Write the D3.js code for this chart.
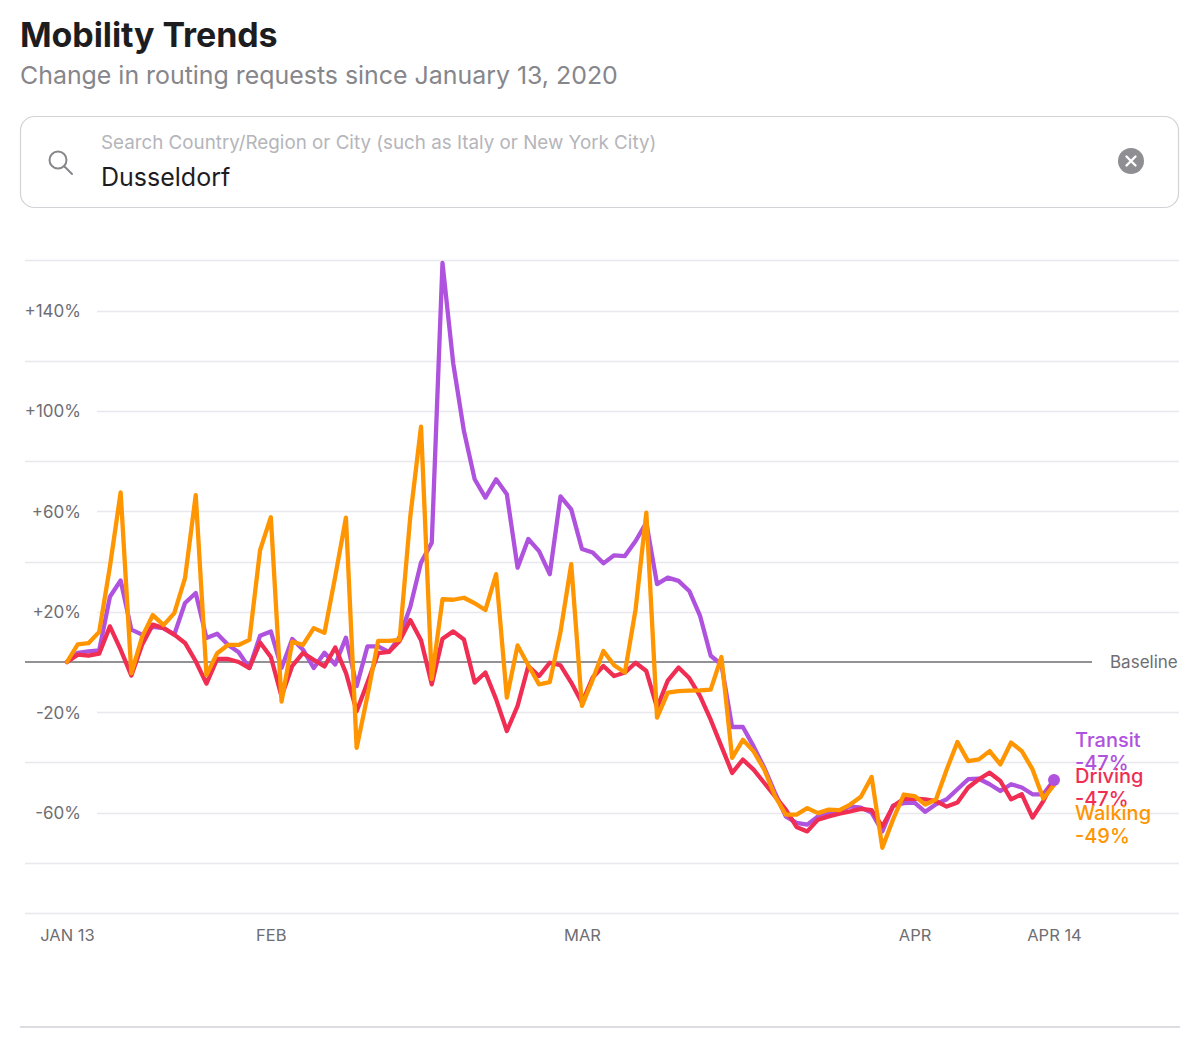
<!DOCTYPE html>
<html>
<head>
<meta charset="utf-8">
<script src="https://cdn.jsdelivr.net/npm/d3@7"></script>
<style>
  html, body { margin: 0; padding: 0; background: #fff; }
  svg { display: block; }
</style>
</head>
<body>
<svg id="chart" width="1200" height="1048"></svg>
<script>
// ---- Data (percent change vs baseline, daily from Jan 13, 2020 to Apr 14, 2020) ----
const startDate = "2020-01-13";
const endDate = "2020-04-14";

const transit = [
  0, 3.6, 4.2, 4.6, 26, 32.5, 12.9, 10.9, 14, 13.5,
  10.9, 23.5, 27.5, 9.6, 11.3, 6.9, 3.9, -2.4, 10.5, 12.2,
  -2.4, 9.2, 4.9, -2.4, 3.7, -1, 9.7, -9.6, 6.2, 6.2,
  4, 10, 22, 39.6, 47.5, 159, 119, 92, 72.8, 65.5,
  72.8, 66.8, 37.6, 49, 44.2, 35, 66, 60.8, 45, 43.6,
  39.3, 42.5, 42.2, 48.2, 55.5, 31, 33.6, 32.3, 28.3, 18.5,
  2.5, -1, -25.9, -25.9, -33.6, -42.2, -52.2, -61.5, -64.1, -64.8,
  -61.5, -60.2, -59.5, -57.5, -58, -60, -67.5, -57.2, -56.2, -56,
  -59.7, -56.7, -54.7, -50.7, -46.7, -46.5, -48.7, -51.4, -48.7, -50,
  -52.7, -52.7, -47
];

const driving = [
  0, 2.9, 2.5, 3.3, 14.2, 4.9, -5.4, 6.9, 14.9, 13.5,
  10.9, 7.6, 0.3, -8.6, 1.2, 1.2, 0, -2.4, 7.8, 2,
  -13.7, -1.5, 3.6, 0.9, -1.8, 5.8, -4.3, -19.6, -8.3, 3.5,
  4, 8.4, 16.7, 8.7, -8.9, 9.3, 12.2, 9, -8.2, -4.2,
  -14.9, -27.5, -17.5, -1.6, -5.6, -0.3, -1.3, -8.2, -16.2, -6.2,
  -1.6, -5.6, -4.2, -0.3, -3.6, -18.2, -7.4, -2.2, -6.4, -13.5,
  -23, -33.6, -44.2, -38.9, -42.9, -48.2, -53.5, -58.8, -65.7, -67.5,
  -62.8, -61.5, -60.4, -59.5, -58.5, -59, -65.5, -57.5, -54.5, -54.4,
  -54.7, -55.4, -57.6, -56, -50, -46.7, -44.1, -47.4, -54.7, -52.7,
  -62, -55.4, -47
];

const walking = [
  0, 7, 7.5, 12, 38, 67.6, -4.5, 10, 18.7, 14.7,
  19.5, 33.4, 66.5, -5.2, 3.5, 6.8, 6.8, 8.8, 44.6, 57.7,
  -15.8, 8.1, 6.8, 13.5, 11.6, 34, 57.5, -34.2, -13.6, 8.4,
  8.4, 8.8, 58, 93.8, -6.8, 25, 24.8, 25.6, 23.4, 20.7,
  35, -14.2, 6.6, -1.3, -8.9, -8, 12, 39, -17.5, -7,
  4.4, -1.3, -4.2, 21, 59.5, -22.2, -12.2, -11.6, -11.4, -11.3,
  -11, 2, -38.2, -31, -35.6, -42.9, -53.5, -60.8, -60.8, -58.2,
  -60.2, -58.8, -59, -56.8, -53.7, -45.8, -74, -62.7, -52.8, -53.4,
  -56.8, -54.8, -42.8, -31.9, -39.5, -38.8, -35.5, -40.8, -32.1, -35.5,
  -42.8, -54.4, -49
];

const seriesNames = ["Transit", "Driving", "Walking"];
const seriesLabels = ["-47%", "-47%", "-49%"];
const seriesColors = ["#af52de", "#f02d52", "#ff9500"];

const gridValues = [160, 140, 120, 100, 80, 60, 40, 20, -20, -40, -60, -80, -100];
const yTickValues = [140, 100, 60, 20, -20, -60];
const yTickLabels = ["+140%", "+100%", "+60%", "+20%", "-20%", "-60%"];
const xTickDates = ["2020-01-13", "2020-02-01", "2020-03-01", "2020-04-01", "2020-04-14"];
const xTickLabels = ["JAN 13", "FEB", "MAR", "APR", "APR 14"];

// ---- Build ----
const parse = d3.utcParse("%Y-%m-%d");
const t0 = parse(startDate), t1 = parse(endDate);
const dates = d3.utcDay.range(t0, d3.utcDay.offset(t1, 1));

const svg = d3.select("#chart");
const font = "Inter, 'Helvetica Neue', Roboto, sans-serif";

// Header
svg.append("text").attr("x", 20).attr("y", 47)
  .attr("font-family", font).attr("font-weight", 700).attr("font-size", 34)
  .attr("fill", "#1d1d1f").attr("letter-spacing", -0.1).text("Mobility Trends");
svg.append("text").attr("x", 20).attr("y", 84)
  .attr("font-family", font).attr("font-size", 24.9)
  .attr("fill", "#86868b").text("Change in routing requests since January 13, 2020");

// Search box
svg.append("rect").attr("x", 20.5).attr("y", 116.5).attr("width", 1158).attr("height", 91)
  .attr("rx", 14).attr("fill", "#fff").attr("stroke", "#d2d2d7").attr("stroke-width", 1.2);
const mag = svg.append("g").attr("stroke", "#86868b").attr("stroke-width", 2).attr("fill", "none");
mag.append("circle").attr("cx", 58).attr("cy", 160).attr("r", 8.5);
mag.append("line").attr("x1", 64.5).attr("y1", 166.5).attr("x2", 72).attr("y2", 174).attr("stroke-linecap", "round");
svg.append("text").attr("x", 101).attr("y", 149)
  .attr("font-family", font).attr("font-size", 18.8).attr("fill", "#b5b5ba")
  .text("Search Country/Region or City (such as Italy or New York City)");
svg.append("text").attr("x", 101).attr("y", 186)
  .attr("font-family", font).attr("font-size", 25).attr("fill", "#1d1d1f").text("Dusseldorf");
svg.append("circle").attr("cx", 1131).attr("cy", 161).attr("r", 13).attr("fill", "#8e8e93");
svg.append("path").attr("d", "M1126.5,156.5L1135.5,165.5M1135.5,156.5L1126.5,165.5")
  .attr("stroke", "#fff").attr("stroke-width", 2.4).attr("stroke-linecap", "round");

// Scales
const x = d3.scaleUtc().domain([t0, t1]).range([67, 1054]);
const y = d3.scaleLinear().domain([-100, 160]).range([913, 260.4]);

// Grid
const grid = svg.append("g");
gridValues.forEach(v => {
  const labeled = yTickValues.includes(v);
  grid.append("line")
    .attr("x1", labeled ? 97 : 25).attr("x2", 1179)
    .attr("y1", Math.round(y(v)) + 0.5).attr("y2", Math.round(y(v)) + 0.5)
    .attr("stroke", "#e8e8ed").attr("stroke-width", 1.6);
});
// Baseline
grid.append("line").attr("x1", 25).attr("x2", 1092)
  .attr("y1", y(0)).attr("y2", y(0)).attr("stroke", "#6e6e73").attr("stroke-width", 1.3);
svg.append("text").attr("x", 1110).attr("y", y(0) + 6)
  .attr("font-family", font).attr("font-size", 17).attr("fill", "#6e6e73").text("Baseline");

// Y axis labels via d3 axis
const yAxis = d3.axisLeft(y).tickValues(yTickValues)
  .tickFormat((d, i) => yTickLabels[i]).tickSize(0).tickPadding(0);
const yg = svg.append("g").attr("transform", "translate(81,0)").call(yAxis);
yg.select(".domain").remove();
yg.selectAll("text").attr("font-family", font).attr("font-size", 17)
  .attr("fill", "#6e6e73").attr("dy", "0.35em");

// X axis labels
const xAxis = d3.axisBottom(x).tickValues(xTickDates.map(parse))
  .tickFormat((d, i) => xTickLabels[i]).tickSize(0).tickPadding(0);
const xg = svg.append("g").attr("transform", "translate(0,931)").call(xAxis);
xg.select(".domain").remove();
xg.selectAll("text").attr("font-family", font).attr("font-size", 16.5)
  .attr("fill", "#6e6e73").attr("dy", "0.6em");

// Bottom rule
svg.append("line").attr("x1", 20).attr("x2", 1180).attr("y1", 1027).attr("y2", 1027)
  .attr("stroke", "#d2d2d7").attr("stroke-width", 1.5);

// Lines
const allSeries = [transit, driving, walking];
const line = d3.line().x((d, i) => x(dates[i])).y(d => y(d));
allSeries.forEach((s, k) => {
  svg.append("path").datum(s)
    .attr("d", line).attr("fill", "none")
    .attr("stroke", seriesColors[k]).attr("stroke-width", 4.3)
    .attr("stroke-linejoin", "round").attr("stroke-linecap", "round");
});
// End dot for transit
svg.append("circle").attr("cx", x(dates[dates.length - 1])).attr("cy", y(transit[transit.length - 1]))
  .attr("r", 6).attr("fill", seriesColors[0]);

// Right-side series labels (stacked tightly as in the original)
const labelBase = [747, 783, 820];
seriesNames.forEach((n, k) => {
  svg.append("text").attr("x", 1075).attr("y", labelBase[k])
    .attr("font-family", font).attr("font-weight", 500).attr("font-size", 20)
    .attr("fill", seriesColors[k]).text(n);
  svg.append("text").attr("x", 1075).attr("y", labelBase[k] + 23)
    .attr("font-family", font).attr("font-weight", 500).attr("font-size", 20)
    .attr("fill", seriesColors[k]).text(seriesLabels[k]);
});
</script>
</body>
</html>
